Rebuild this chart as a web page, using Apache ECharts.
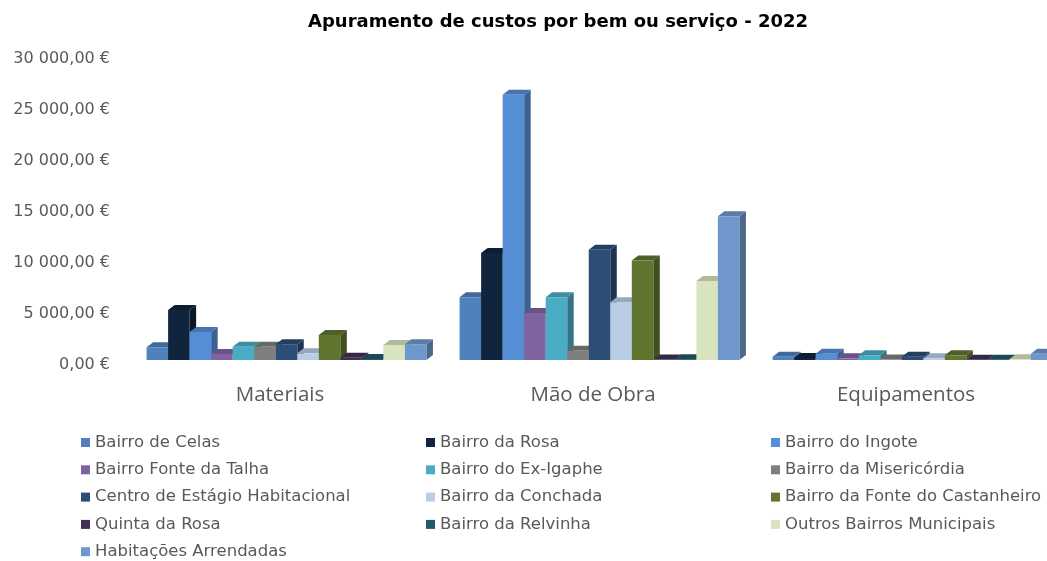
<!DOCTYPE html>
<html>
<head>
<meta charset="utf-8">
<script src="https://cdn.jsdelivr.net/npm/echarts@6/dist/echarts.min.js"></script>
<style>
  html, body { margin: 0; padding: 0; background: #fff; }
  #chart { width: 1047px; height: 561px; }
</style>
</head>
<body>
<div id="chart"></div>
<script>
var categorias = ['Materiais', 'Mão de Obra', 'Equipamentos'];
var bairros = [
    'Bairro de Celas', 'Bairro da Rosa', 'Bairro do Ingote',
    'Bairro Fonte da Talha', 'Bairro do Ex-Igaphe', 'Bairro da Misericórdia',
    'Centro de Estágio Habitacional', 'Bairro da Conchada', 'Bairro da Fonte do Castanheiro',
    'Quinta da Rosa', 'Bairro da Relvinha', 'Outros Bairros Municipais',
    'Habitações Arrendadas'
];
// valores por categoria, na ordem de "bairros"
var materiais = [1250, 4900, 2750, 600, 1300, 1300, 1550, 650, 2450, 230, 100, 1470, 1550];
var maoDeObra = [6150, 10500, 26000, 4600, 6150, 900, 10800, 5650, 9750, 50, 80, 7750, 14100];
var equipamentos = [330, 200, 620, 170, 460, 50, 330, 170, 460, 30, 30, 70, 620];

var cores = ['#4F81BD', '#10243E', '#558ED5', '#8064A2', '#4BACC6', '#7F7F7F',
    '#2C4D75', '#B9CDE5', '#5F7530', '#403152', '#215968', '#D7E4BD', '#6F97CB'];

var N = bairros.length;
var DX = 6.5, DY = 5, DESLOC = 5;

function formatEuro(v) {
    var s = Math.round(v).toString().replace(/\B(?=(\d{3})+(?!\d))/g, ' ');
    return s + ',00 €';
}

// escurece uma cor hex
function sombra(hex, f) {
    var n = parseInt(hex.slice(1), 16);
    var r = Math.round(((n >> 16) & 255) * f);
    var g = Math.round(((n >> 8) & 255) * f);
    var b = Math.round((n & 255) * f);
    return 'rgb(' + r + ',' + g + ',' + b + ')';
}

function makeRender(si) {
    return function (params, api) {
        var j = api.value(0);
        var v = api.value(1);
        var base = api.coord([j, 0]);
        var top = api.coord([j, v]);
        var band = api.size([1, 0])[0];
        var w = band * 0.894 / N;
        var x0 = base[0] - N * w / 2 + si * w;
        var yb = base[1] - DESLOC;
        var yt = top[1] - DESLOC;
        var cor = cores[si];
        return {
            type: 'group',
            children: [{
                type: 'polygon',
                shape: { points: [[x0 + w, yt], [x0 + w + DX, yt - DY], [x0 + w + DX, yb - DY], [x0 + w, yb]] },
                style: { fill: sombra(cor, 0.68) }
            }, {
                type: 'polygon',
                shape: { points: [[x0, yt], [x0 + DX, yt - DY], [x0 + w + DX, yt - DY], [x0 + w, yt]] },
                style: { fill: sombra(cor, 0.82) }
            }, {
                type: 'rect',
                shape: { x: x0, y: yt, width: w, height: yb - yt },
                style: { fill: cor }
            }]
        };
    };
}

var series = [];
for (var i = 0; i < N; i++) {
    series.push({
        type: 'custom',
        name: bairros[i],
        renderItem: makeRender(i),
        itemStyle: { color: cores[i] },
        encode: { x: 0, y: 1 },
        clip: false,
        data: [[0, materiais[i]], [1, maoDeObra[i]], [2, equipamentos[i]]]
    });
}

function coluna(idx, left) {
    return {
        orient: 'vertical',
        left: left,
        top: 434,
        height: 160,
        padding: 0,
        icon: 'rect',
        itemWidth: 9,
        itemHeight: 9,
        itemGap: 10.3,
        textStyle: { fontFamily: 'DejaVu Sans', fontSize: 16.5, color: '#595959', lineHeight: 16 },
        data: idx.map(function (k) { return bairros[k]; })
    };
}

let myChart = echarts.init(document.getElementById('chart'));
let option = {
    animation: false,
    title: {
        text: 'Apuramento de custos por bem ou serviço - 2022',
        left: 303,
        top: 8,
        textStyle: { fontFamily: 'DejaVu Sans', fontSize: 18, fontWeight: 'bold', color: '#000' }
    },
    legend: [
        coluna([0, 3, 6, 9, 12], 81),
        coluna([1, 4, 7, 10], 426),
        coluna([2, 5, 8, 11], 771)
    ],
    grid: { left: 130, width: 939, top: 59, bottom: 196, outerBoundsMode: 'none' },
    xAxis: {
        type: 'category',
        data: categorias,
        axisLine: { show: false },
        axisTick: { show: false },
        axisLabel: {
            margin: 20,
            padding: [0, 13, 0, 0],
            fontFamily: 'Open Sans',
            fontSize: 20.5,
            color: '#595959'
        }
    },
    yAxis: {
        type: 'value',
        min: 0,
        max: 30000,
        interval: 5000,
        axisLine: { show: false },
        axisTick: { show: false },
        splitLine: { show: false },
        axisLabel: {
            margin: 20,
            fontFamily: 'DejaVu Sans',
            fontSize: 16,
            color: '#595959',
            formatter: formatEuro
        }
    },
    series: series
};
myChart.setOption(option);
</script>
</body>
</html>
